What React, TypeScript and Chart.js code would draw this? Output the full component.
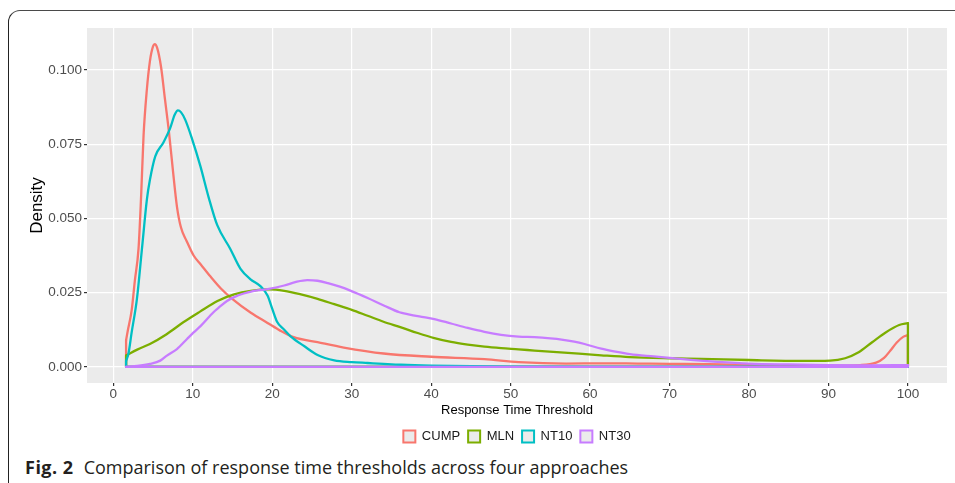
import React, { useEffect, useRef } from "react";
import { Chart, registerables } from "chart.js";

Chart.register(...registerables);

// ---------- data ----------
const seriesNames = ["CUMP", "MLN", "NT10", "NT30"];
const seriesColors = ["#F8766D", "#7CAE00", "#00BFC4", "#C77CFF"];

const cumpX = [1.6, 1.8, 2.3, 2.7, 3.17, 3.5, 3.8, 4.2, 4.6, 5.0, 5.2, 5.5, 6.0, 6.5, 7.0, 7.5, 8.0, 8.5, 9.2, 10.1, 11.0, 12.2, 13.5, 15.0, 17.3, 19.4, 21.0, 22.7, 25.7, 29.0, 34.0, 40.0, 46.7, 51.0, 57.0, 61.4, 66.0, 70.0, 75.0, 80.0, 85.0, 90.0, 94.0, 96.0, 97.0, 97.8, 98.6, 99.4, 100.0];
const cumpY = [0.009, 0.012, 0.019, 0.029, 0.040, 0.058, 0.078, 0.093, 0.103, 0.108, 0.1087, 0.1075, 0.101, 0.090, 0.079, 0.066, 0.054, 0.047, 0.0425, 0.0375, 0.0345, 0.0305, 0.0265, 0.0228, 0.0182, 0.0148, 0.0122, 0.0100, 0.0083, 0.0065, 0.0045, 0.0034, 0.0026, 0.0016, 0.0011, 0.0012, 0.0011, 0.0010, 0.0009, 0.0007, 0.0005, 0.0004, 0.0006, 0.0014, 0.0030, 0.0055, 0.0082, 0.0101, 0.0107];

const mlnX = [1.6, 3.0, 4.6, 6.7, 8.8, 10.9, 13.1, 15.2, 17.3, 19.6, 21.5, 23.6, 25.7, 27.8, 30.0, 32.0, 34.0, 36.2, 38.3, 40.4, 42.5, 44.6, 46.7, 48.8, 51.0, 53.0, 57.2, 61.4, 65.0, 70.0, 74.0, 80.0, 86.7, 90.2, 92.1, 93.8, 95.5, 97.2, 98.9, 100.0];
const mlnY = [0.0038, 0.0058, 0.0077, 0.011, 0.015, 0.0186, 0.0222, 0.0244, 0.0256, 0.0261, 0.0256, 0.0244, 0.0229, 0.0211, 0.0192, 0.0172, 0.0152, 0.0133, 0.0114, 0.0097, 0.0084, 0.0075, 0.0068, 0.0063, 0.0059, 0.0055, 0.0047, 0.0039, 0.0033, 0.0029, 0.0027, 0.0023, 0.0020, 0.0021, 0.0029, 0.0049, 0.0083, 0.0116, 0.0141, 0.0147];

const nt10X = [1.6, 1.9, 2.3, 2.96, 3.59, 4.22, 4.6, 5.27, 6.3, 7.16, 7.7, 8.13, 8.5, 9.05, 9.9, 10.95, 12.0, 13.06, 14.7, 16.0, 17.26, 18.5, 19.4, 20.0, 20.6, 21.5, 22.3, 24.0, 25.7, 27.8, 30.0, 32.0, 34.0, 36.2, 40.0, 45.0, 50.0, 60.0, 70.0, 80.0, 90.0, 100.0];
const nt10Y = [0.002, 0.0045, 0.0116, 0.0228, 0.0396, 0.0564, 0.063, 0.0709, 0.0756, 0.0805, 0.0848, 0.0864, 0.0858, 0.0832, 0.0768, 0.0676, 0.057, 0.0478, 0.0398, 0.033, 0.0295, 0.0272, 0.024, 0.0195, 0.0152, 0.0125, 0.0103, 0.007, 0.004, 0.0022, 0.0016, 0.0013, 0.001, 0.0007, 0.0004, 0.0002, 0.0001, 0.0, 0.0, 0.0, 0.0, 0.0];

const nt30X = [1.6, 3.0, 4.6, 5.9, 6.74, 8.0, 9.27, 10.1, 11.0, 12.6, 13.2, 14.3, 15.2, 16.4, 17.7, 19.4, 21.5, 23.0, 24.4, 25.7, 27.0, 28.5, 29.9, 32.0, 34.1, 36.0, 37.0, 38.5, 40.4, 42.5, 44.6, 46.7, 48.8, 51.0, 53.0, 55.0, 56.4, 58.0, 59.3, 61.4, 63.0, 65.0, 68.0, 70.0, 73.0, 76.0, 80.0, 85.0, 90.0, 95.0, 100.0];
const nt30Y = [0.0, 0.0003, 0.001, 0.0021, 0.0038, 0.006, 0.0094, 0.0116, 0.0138, 0.0184, 0.0198, 0.0222, 0.0235, 0.0247, 0.0256, 0.0262, 0.0274, 0.0286, 0.0292, 0.029, 0.0282, 0.027, 0.0256, 0.0232, 0.0206, 0.0184, 0.0178, 0.017, 0.0161, 0.0146, 0.0131, 0.0118, 0.0108, 0.0102, 0.01, 0.0096, 0.0092, 0.0085, 0.0077, 0.0061, 0.0052, 0.0043, 0.0035, 0.003, 0.0023, 0.0017, 0.0011, 0.0008, 0.0006, 0.0005, 0.0006];

const seriesX = [cumpX, mlnX, nt10X, nt30X];
const seriesY = [cumpY, mlnY, nt10Y, nt30Y];

const xTicks = [0, 10, 20, 30, 40, 50, 60, 70, 80, 90, 100];
const yTicks = [0, 0.025, 0.05, 0.075, 0.1];
const xRange = [-3.32, 104.92];
const yRange = [-0.00544, 0.11414];

const xTitle = "Response Time Threshold";
const yTitle = "Density";
const captionBold = "Fig. 2";
const captionText = "Comparison of response time thresholds across four approaches";

const SANS = "'Liberation Sans', Arial, sans-serif";

const panelBg = {
  id: "panelBg",
  beforeDraw(chart: any) {
    const { ctx, chartArea } = chart;
    ctx.save();
    ctx.fillStyle = "#EBEBEB";
    ctx.fillRect(chartArea.left, chartArea.top, chartArea.right - chartArea.left, chartArea.bottom - chartArea.top);
    ctx.restore();
  },
};

export default function App() {
  const ref = useRef<HTMLCanvasElement | null>(null);

  useEffect(() => {
    if (!ref.current) return;
    const datasets: any[] = [];
    seriesNames.forEach((name, k) => {
      const xs = seriesX[k];
      const ys = seriesY[k];
      const pts = xs.map((x, i) => ({ x, y: ys[i] }));
      const n = xs.length;
      const common = {
        borderColor: seriesColors[k],
        borderWidth: 2.3,
        pointRadius: 0,
        pointHoverRadius: 0,
        fill: false,
        borderCapStyle: "round",
        borderJoinStyle: "round",
        order: 100 - 2 * k,
      };
      datasets.push({ ...common, label: name, data: pts, cubicInterpolationMode: "monotone" });
      datasets.push({
        ...common,
        label: name + "_outline",
        tension: 0,
        data: [
          { x: xs[n - 1], y: ys[n - 1] },
          { x: xs[n - 1], y: 0 },
          { x: xs[0], y: 0 },
          { x: xs[0], y: ys[0] },
        ],
      });
    });

    const chart = new Chart(ref.current, {
      type: "line",
      data: { datasets },
      plugins: [panelBg],
      options: {
        animation: false,
        responsive: false,
        maintainAspectRatio: false,
        parsing: true,
        layout: { padding: { left: 0, right: 8, top: 16, bottom: 0 } },
        plugins: {
          tooltip: { enabled: false },
          legend: {
            display: true,
            position: "bottom",
            fullSize: false,
            labels: {
              boxWidth: 12,
              boxHeight: 12,
              padding: 8,
              color: "#1a1a1a",
              font: { family: SANS, size: 13 },
              generateLabels: () =>
                seriesNames.map((name, k) => ({
                  text: name,
                  fillStyle: "#EBEBEB",
                  strokeStyle: seriesColors[k],
                  lineWidth: 2,
                  hidden: false,
                  datasetIndex: 2 * k,
                  fontColor: "#1a1a1a",
                })),
            },
          },
        },
        scales: {
          x: {
            type: "linear",
            min: xRange[0],
            max: xRange[1],
            afterBuildTicks: (s: any) => {
              s.ticks = xTicks.map((v) => ({ value: v }));
            },
            afterFit: (s: any) => {
              s.height = 39;
            },
            grid: { color: "#FFFFFF", lineWidth: 1.2, tickColor: "#333333", tickLength: 3, drawTicks: true },
            border: { display: false },
            ticks: {
              padding: 0,
              color: "#4D4D4D",
              font: { family: SANS, size: 13.5 },
              maxRotation: 0,
              callback: (v: any) => String(v),
            },
            title: {
              display: true,
              text: xTitle,
              color: "#000000",
              font: { family: SANS, size: 13 },
              padding: { top: 0, bottom: 4 },
            },
          },
          y: {
            type: "linear",
            min: yRange[0],
            max: yRange[1],
            afterBuildTicks: (s: any) => {
              s.ticks = yTicks.map((v) => ({ value: v }));
            },
            afterFit: (s: any) => {
              s.width = 79;
            },
            grid: { color: "#FFFFFF", lineWidth: 1.2, tickColor: "#333333", tickLength: 3, drawTicks: true },
            border: { display: false },
            ticks: {
              padding: 2,
              color: "#4D4D4D",
              font: { family: SANS, size: 13.5 },
              callback: (v: any) => Number(v).toFixed(3),
            },
            title: {
              display: true,
              text: yTitle,
              color: "#000000",
              font: { family: SANS, size: 17 },
              padding: { top: 19, bottom: 0 },
            },
          },
        },
      },
    });
    return () => chart.destroy();
  }, []);

  return (
    <div style={{ position: "fixed", left: 0, top: 0, width: 955, height: 483, overflow: "hidden", background: "#fff" }}>
      <div
        style={{
          position: "absolute",
          left: 8,
          top: 10,
          width: 1000,
          height: 520,
          borderTop: "1.5px solid #4a4a4a",
          borderLeft: "1.5px solid #222",
          borderTopLeftRadius: 12,
          boxSizing: "border-box",
        }}
      />
      <canvas
        ref={ref}
        width={947}
        height={441}
        style={{ position: "absolute", left: 8, top: 12, width: 947, height: 441 }}
      />
      <div
        style={{
          position: "absolute",
          left: 25,
          top: 456,
          whiteSpace: "nowrap",
          fontFamily: "'Open Sans', 'Noto Sans', sans-serif",
          fontSize: 18,
          lineHeight: "22px",
          color: "#231f20",
        }}
      >
        <span style={{ fontWeight: 700, letterSpacing: 0.5 }}>{captionBold}</span>
        <span style={{ marginLeft: 10 }}>{captionText}</span>
      </div>
    </div>
  );
}
